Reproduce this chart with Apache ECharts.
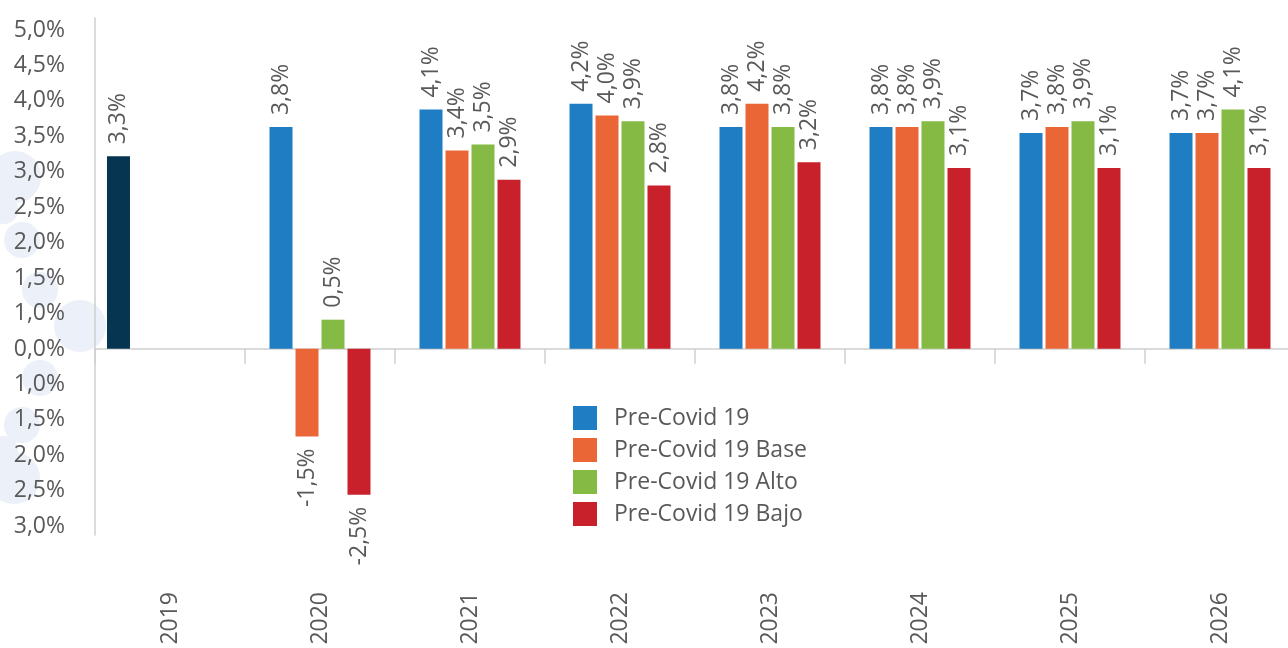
<!DOCTYPE html>
<html>
<head>
<meta charset="utf-8">
<script src="https://cdn.jsdelivr.net/npm/echarts@6/dist/echarts.min.js"></script>
<style>
html,body{margin:0;padding:0;background:#fff;}
#chart{width:1288px;height:648px;}
</style>
</head>
<body>
<div id="chart"></div>
<script>
var years = ['2019','2020','2021','2022','2023','2024','2025','2026'];
var seriesNames = ['Pre-Covid 19','Pre-Covid 19 Base','Pre-Covid 19 Alto','Pre-Covid 19 Bajo'];
var historicName = 'Real';
var historic     = [3.3, null, null, null, null, null, null, null];
var preCovid     = [null, 3.8, 4.1, 4.2, 3.8, 3.8, 3.7, 3.7];
var preCovidBase = [null, -1.5, 3.4, 4.0, 4.2, 3.8, 3.8, 3.7];
var preCovidAlto = [null, 0.5, 3.5, 3.9, 3.8, 3.9, 3.9, 4.1];
var preCovidBajo = [null, -2.5, 2.9, 2.8, 3.2, 3.1, 3.1, 3.1];
var yTickLabels = ['3,0%','2,5%','2,0%','1,5%','1,0%','0,0%','1,0%','1,5%','2,0%','2,5%','3,0%','3,5%','4,0%','4,5%','5,0%'];

var colors = ['#1f7dc3','#eb6636','#85bb45','#c9212c'];
var histColor = '#063552';
var font = '"Open Sans", "Noto Sans", sans-serif';
var labelColor = '#595959';
var fs = 23;

function fmt(v){ return v.toFixed(1).replace('.', ',') + '%'; }

function buildData(arr){
  return arr.map(function(v){
    if (v === null) return null;
    var item = { value: v };
    if (v < 0) item.label = { position: 'bottom', align: 'right' };
    return item;
  });
}

var valueLabel = {
  show: true,
  position: 'top',
  rotate: 90,
  align: 'left',
  verticalAlign: 'middle',
  distance: 12,
  color: labelColor,
  fontSize: fs,
  fontFamily: font,
  formatter: function(p){ return fmt(p.value); }
};

var raw = [preCovid, preCovidBase, preCovidAlto, preCovidBajo];
var series = raw.map(function(arr, idx){
  return {
    name: seriesNames[idx],
    type: 'bar',
    xAxisIndex: 0,
    yAxisIndex: 0,
    barWidth: 23,
    barGap: '13%',
    itemStyle: { color: colors[idx] },
    label: valueLabel,
    data: buildData(arr)
  };
});
// historic year on its own hidden category axis (own bar slot)
series.push({
  name: historicName,
  type: 'bar',
  xAxisIndex: 2,
  yAxisIndex: 0,
  barWidth: 23,
  barGap: '348%',
  itemStyle: { color: histColor },
  label: valueLabel,
  data: buildData(historic)
});
series.push({
  name: '_spacer',
  type: 'bar',
  xAxisIndex: 2,
  yAxisIndex: 0,
  barWidth: 23,
  barGap: '348%',
  data: historic.map(function(){ return null; })
});

var tickPositions = yTickLabels.map(function(_, i){ return i; });

var blobs = [[15,177,26],[22,240,18],[40,290,18],[80,326,26],[40,378,18],[22,425,18],[14,478,26],[4,210,14],[4,450,14]];
var graphics = blobs.map(function(b){
  return { type:'circle', shape:{cx:b[0], cy:b[1], r:b[2]}, style:{fill:'#ecf0f8'}, z:-10, silent:true };
});

var chart = echarts.init(document.getElementById('chart'), null, {renderer:'canvas'});
chart.setOption({
  backgroundColor: '#ffffff',
  animation: false,
  graphic: graphics,
  grid: { left: 95, top: 18, width: 1200, height: 517, containLabel: false, outerBoundsMode: 'none' },
  legend: {
    orient: 'vertical',
    left: 568,
    top: 401,
    itemWidth: 24,
    itemHeight: 24,
    itemGap: 8,
    icon: 'rect',
    data: seriesNames,
    textStyle: { fontSize: fs, color: labelColor, fontFamily: font, padding: [0,0,0,12] }
  },
  xAxis: [
    {
      type: 'category',
      data: years,
      position: 'bottom',
      axisLine: { show: true, onZero: true, onZeroAxisIndex: 0, lineStyle: { color: '#cfcfcf', width: 1.5 } },
      axisTick: { show: true, length: 15, lineStyle: { color: '#cfcfcf', width: 1.5 } },
      axisLabel: { show: false },
      splitLine: { show: false }
    },
    {
      type: 'category',
      data: years,
      position: 'bottom',
      axisLine: { show: false, onZero: false },
      axisTick: { show: false },
      axisLabel: { show: true, rotate: 90, margin: 57, fontSize: fs, color: labelColor, fontFamily: font },
      splitLine: { show: false }
    },
    {
      type: 'category',
      data: years,
      show: false
    }
  ],
  yAxis: [
    {
      type: 'value',
      min: -3.19,
      max: 5.67,
      show: false,
      splitLine: { show: false }
    },
    {
      type: 'value',
      position: 'left',
      min: -0.25,
      max: 14.34,
      axisLine: { show: true, lineStyle: { color: '#cfcfcf', width: 1.5 } },
      axisTick: { show: false },
      splitLine: { show: false },
      axisLabel: {
        show: true,
        customValues: tickPositions,
        margin: 30,
        fontSize: fs,
        color: labelColor,
        fontFamily: font,
        formatter: function(v){ return yTickLabels[Math.round(v)] || ''; }
      }
    }
  ],
  series: series
});
</script>
</body>
</html>
